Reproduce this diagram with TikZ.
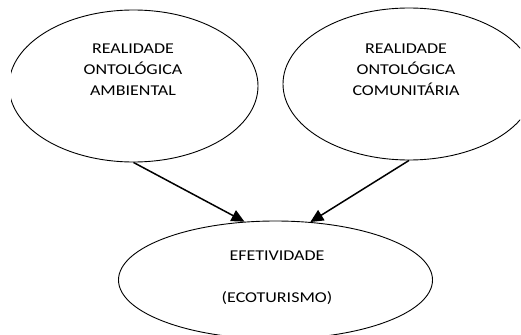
\documentclass[tikz,border=0pt]{standalone}
\usepackage{fontspec}
\setmainfont[FakeStretch=1.2]{Carlito}
\usepackage{tikz}
\usetikzlibrary{shapes.geometric, arrows.meta}

\begin{document}
\begin{tikzpicture}[
    x=1pt, y=-1pt,
    bubble/.style={draw, ellipse, line width=0.9pt, inner sep=0pt},
    txt/.style={font=\fontsize{15}{21}\selectfont, align=center},
    arrow/.style={-{Triangle[length=13pt, width=12pt]}, line width=1.5pt},
]
\useasboundingbox (0,0) rectangle (521,334);
\clip (11,0) rectangle (520,334);
\node[bubble, minimum width=249pt, minimum height=152pt] (amb) at (133.5,86) {};
\node[bubble, minimum width=252pt, minimum height=152pt] (com) at (409,84) {};
\node[bubble, minimum width=314pt, minimum height=118pt] (efet) at (275.5,280) {};
\node[txt] (ambtxt) at (133,70) {REALIDADE\\ONTOLÓGICA\\AMBIENTAL};
\node[txt] (comtxt) at (406,70) {REALIDADE\\ONTOLÓGICA\\COMUNITÁRIA};
\node[txt] (efettxt) at (277,278) {EFETIVIDADE\\[21pt](ECOTURISMO)};

\draw[arrow] (amb.south) -- (efet.118);
\draw[arrow] (com.south) -- (efet.59);
\end{tikzpicture}
\end{document}
